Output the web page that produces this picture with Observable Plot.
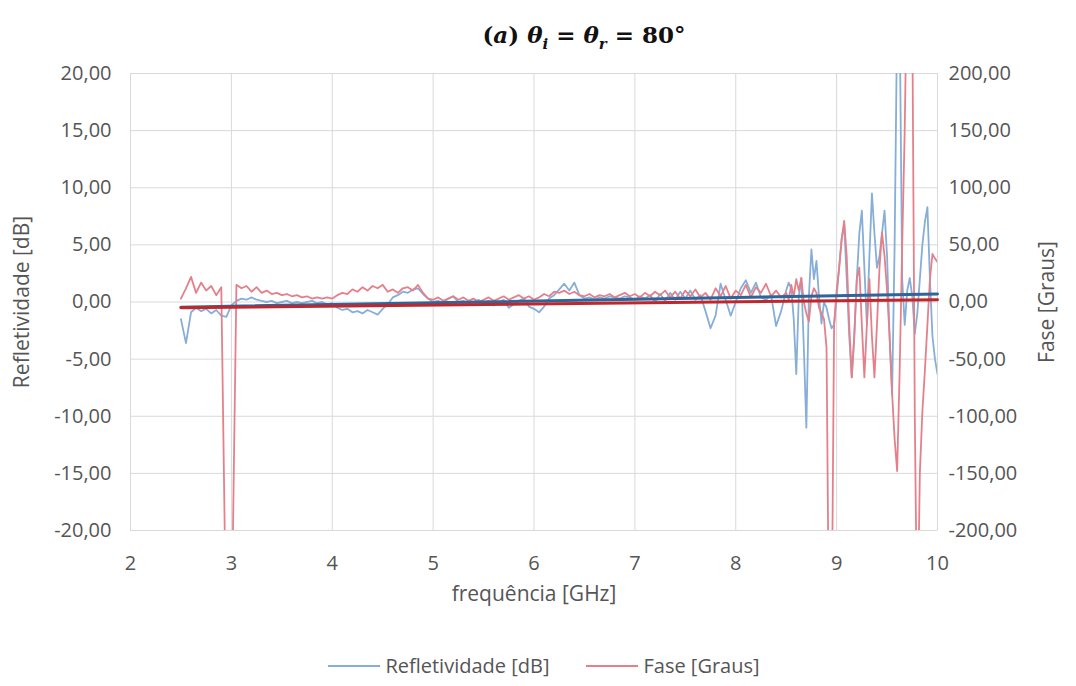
<!DOCTYPE html>
<html>
<head>
<meta charset="utf-8">
<script src="https://cdn.jsdelivr.net/npm/d3@7"></script>
<script src="https://cdn.jsdelivr.net/npm/@observablehq/plot@0.6"></script>
<style>
  html, body { margin: 0; padding: 0; background: white; }
  #title { height: 55px; box-sizing: border-box; padding-top: 20px; text-align: center; font-family: "DejaVu Serif", serif; font-weight: bold; font-size: 23px; line-height: 30px; color: #111; position: relative; left: 46px; }
  #title sub { font-size: 15px; }
  #legend { display: flex; justify-content: center; align-items: center; gap: 37px; margin-top: 22px; font-family: "Open Sans", sans-serif; font-size: 20px; color: #555; padding-left: 12px; }
  .item { display: flex; align-items: center; gap: 5px; }
</style>
</head>
<body>
<div id="title">(<i>a</i>) <i>θ<sub>i</sub></i> = <i>θ<sub>r</sub></i> = 80°</div>
<div id="chart"></div>
<div id="legend"></div>
<script>
// ---- data ----
const freq = [
  2.50,2.55,2.60,2.65,2.70,2.75,2.80,2.85,2.90,2.95,
  3.00,3.05,3.10,3.15,3.20,3.25,3.30,3.35,3.40,3.45,3.50,3.55,3.60,3.65,3.70,3.75,3.80,3.85,3.90,3.95,
  4.00,4.05,4.10,4.15,4.20,4.25,4.30,4.35,4.40,4.45,4.50,4.55,4.60,4.65,4.70,4.75,4.80,4.85,4.90,4.95,
  5.00,5.05,5.10,5.15,5.20,5.25,5.30,5.35,5.40,5.45,5.50,5.55,5.60,5.65,5.70,5.75,5.80,5.85,5.90,5.95,
  6.00,6.05,6.10,6.15,6.20,6.25,6.30,6.35,6.40,6.45,6.50,6.55,6.60,6.65,6.70,6.75,6.80,6.85,6.90,6.95,
  7.00,7.05,7.10,7.15,7.20,7.25,7.30,7.35,7.40,7.45,7.50,7.55,7.60,7.65,7.70,7.75,7.80,7.85,7.90,7.95,
  8.00,8.05,8.10,8.15,8.20,8.25,8.30,8.35,8.40,8.45,8.50,
  8.525,8.55,8.575,8.60,8.625,8.65,8.675,8.70,8.725,8.75,8.775,8.80,8.825,8.85,8.875,8.90,8.925,8.95,8.975,
  9.00,9.025,9.05,9.075,9.10,9.125,9.15,9.175,9.20,9.225,9.25,9.275,9.30,9.325,9.35,9.375,9.40,9.425,9.45,9.475,
  9.50,9.525,9.55,9.575,9.60,9.625,9.65,9.675,9.70,9.725,9.75,9.775,9.80,9.825,9.85,9.875,9.90,9.925,9.95,9.975,
  10.00
];
// Refletividade [dB]
const refletividade = [
  -1.5,-3.6,-0.9,-0.5,-0.8,-0.6,-1.0,-0.7,-1.2,-1.3,
  -0.3,0.1,0.3,0.2,0.4,0.2,0.1,0.0,0.1,-0.1,0.0,0.1,-0.1,0.0,-0.1,0.0,0.1,-0.1,0.0,-0.2,
  -0.1,-0.5,-0.7,-0.6,-0.9,-0.8,-1.0,-0.7,-0.9,-1.1,-0.6,-0.2,0.4,0.6,0.9,0.8,1.1,1.2,0.7,0.3,
  0.0,0.1,-0.1,0.3,0.5,0.0,0.1,-0.2,0.0,0.2,-0.1,0.1,-0.3,0.0,0.2,-0.5,-0.2,0.1,0.3,-0.4,
  -0.6,-0.9,-0.4,0.3,0.6,1.1,1.6,1.0,1.7,0.6,0.3,0.4,0.2,0.4,0.3,0.5,0.4,0.3,0.5,0.4,
  0.2,0.5,0.3,0.6,0.0,0.7,0.1,0.8,0.2,0.9,0.3,1.0,0.2,0.6,-0.8,-2.3,-1.2,1.6,0.2,-1.2,
  0.0,1.2,1.9,0.8,1.7,0.4,0.2,0.6,-2.1,-0.8,1.0,
  1.7,1.2,-1.5,-6.3,0.5,2.1,-4.0,-11.0,0.5,4.6,2.0,3.6,0.5,-1.9,0.0,-0.5,-1.5,-2.3,-2.0,
  0.5,3.0,5.5,6.8,2.0,-3.0,-6.6,-3.0,2.0,6.0,8.0,3.0,-2.0,4.0,9.5,6.0,3.0,4.0,6.0,8.0,
  4.0,-3.0,-8.1,5.0,25,25,2.0,-2.0,1.0,2.1,0.5,-2.8,-1.0,2.0,5.0,7.0,8.3,2.0,-3.0,-5.0,
  -6.3
];
// Fase [Graus]
const fase = [
  3,12,22,8,17,10,14,6,13,-300,
  -300,15,12,14,9,13,8,10,7,8,6,7,5,6,4,5,3,4,3,4,
  3,6,8,7,11,9,13,10,14,12,15,9,11,8,12,13,10,15,8,3,
  2,4,1,3,5,2,4,1,3,0,2,4,1,3,5,2,4,6,3,5,
  2,4,7,5,9,8,10,7,9,6,5,7,4,6,5,7,4,6,8,5,
  7,4,8,5,9,6,10,4,9,3,10,5,11,4,8,2,12,5,14,3,
  10,6,15,4,13,8,16,5,10,4,8,
  2,15,5,20,10,21,0,-10,-17,5,12,8,-5,-10,-15,-40,-300,-300,-20,
  10,30,55,71,40,-20,-66,-30,20,30,-20,-66,-20,20,-30,-66,-20,30,61,40,
  10,-30,-80,-120,-148,-60,50,150,300,300,250,-100,-300,-150,-96,-60,-20,20,42,38,
  35
];
// linear trend lines (end points)
const trendFreq = [2.5, 10];
const trendRefletividade = [-0.45, 0.7];
const trendFase = [-5, 2];
// ticks
const xTicks = [2,3,4,5,6,7,8,9,10];
const yTicks = [-20,-15,-10,-5,0,5,10,15,20];
const seriesNames = ["Refletividade [dB]", "Fase [Graus]"];
const seriesColors = ["#86aed8", "#e5808a"];

// ---- build ----
const rows = freq.map((f, i) => ({f, r: refletividade[i], p: fase[i]}));
const trend = trendFreq.map((f, i) => ({f, r: trendRefletividade[i], p: trendFase[i]}));
const fmt = v => v.toFixed(2).replace(".", ",");
const textColor = "#555";

const chart = Plot.plot({
  width: 1076,
  height: 575,
  marginTop: 18,
  marginBottom: 100,
  marginLeft: 130,
  marginRight: 139,
  x: {domain: [2, 10]},
  y: {domain: [-20, 20]},
  style: {fontFamily: "'Open Sans', sans-serif", color: textColor, background: "white", overflow: "visible"},
  marks: [
    Plot.gridX(xTicks, {stroke: "#d9d9d9", strokeOpacity: 1}),
    Plot.gridY(yTicks, {stroke: "#d9d9d9", strokeOpacity: 1}),
    Plot.axisX(xTicks, {tickSize: 0, tickPadding: 25, fontSize: 20, tickFormat: d => String(d), label: null}),
    Plot.axisY(yTicks, {anchor: "left", tickSize: 0, tickPadding: 19, fontSize: 20, tickFormat: fmt, label: null}),
    Plot.axisY(yTicks, {anchor: "right", tickSize: 0, tickPadding: 11, fontSize: 20, tickFormat: d => fmt(d * 10), label: null}),
    Plot.line(rows, {x: "f", y: "r", stroke: seriesColors[0], strokeWidth: 1.8, clip: true}),
    Plot.line(rows, {x: "f", y: d => d.p / 10, stroke: seriesColors[1], strokeWidth: 1.8, clip: true}),
    Plot.line(trend, {x: "f", y: "r", stroke: "#2f6599", strokeWidth: 3}),
    Plot.line(trend, {x: "f", y: d => d.p / 10, stroke: "#c0272d", strokeWidth: 3}),
    Plot.text(["frequência [GHz]"], {text: d => d, frameAnchor: "bottom", dy: 70, fontSize: 21, fill: textColor, textAnchor: "middle"}),
    Plot.text(["Refletividade [dB]"], {text: d => d, frameAnchor: "left", dx: -108, rotate: -90, fontSize: 21, fill: textColor, textAnchor: "middle"}),
    Plot.text(["Fase [Graus]"], {text: d => d, frameAnchor: "right", dx: 110, rotate: -90, fontSize: 21, fill: textColor, textAnchor: "middle"})
  ]
});
document.getElementById("chart").appendChild(chart);

const legend = document.getElementById("legend");
seriesNames.forEach((name, i) => {
  const item = document.createElement("div");
  item.className = "item";
  item.innerHTML = `<svg width="52" height="4"><line x1="0" y1="2" x2="52" y2="2" stroke="${seriesColors[i]}" stroke-width="1.8"/></svg><span>${name}</span>`;
  legend.appendChild(item);
});
</script>
</body>
</html>
